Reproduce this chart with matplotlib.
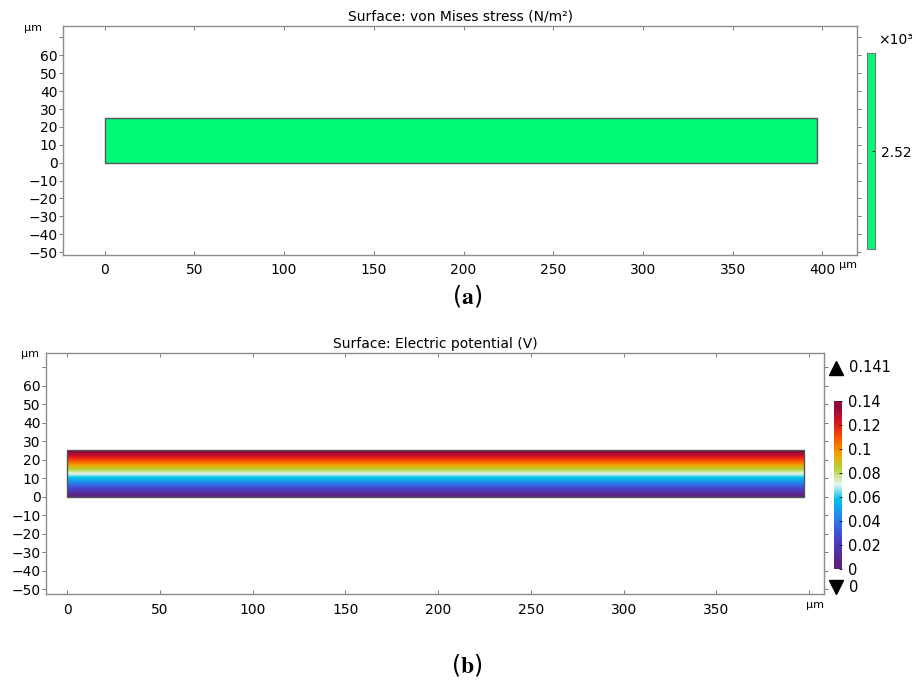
import numpy as np
import matplotlib
matplotlib.use("Agg")
import matplotlib.pyplot as plt
from matplotlib.colors import LinearSegmentedColormap, ListedColormap
from matplotlib.patches import Rectangle
from matplotlib.lines import Line2D

plt.rcParams['font.family'] = ['DejaVu Sans']
plt.rcParams['font.size'] = 10
plt.rcParams['mathtext.fontset'] = 'stix'

# geometry of the beam (um)
beam_length = 397
beam_height = 25

# (a) von Mises stress, uniform over the beam (N/m^2)
stress_value = 2520

# (b) electric potential through the thickness (V)
y_samples = [0, 2.5, 5, 7.5, 10, 12.5, 15, 17.5, 20, 22.5, 25]
v_samples = [0, 0.014, 0.028, 0.042, 0.056, 0.071, 0.085, 0.099, 0.113, 0.127, 0.141]
v_min = 0
v_max = 0.141
cbar_ticks = [0, 0.02, 0.04, 0.06, 0.08, 0.1, 0.12, 0.14]
cbar_labels = ["0", "0.02", "0.04", "0.06", "0.08", "0.1", "0.12", "0.14"]

y_ticks = [-50, -40, -30, -20, -10, 0, 10, 20, 30, 40, 50, 60, 70]
y_labels = ["\u221250", "\u221240", "\u221230", "\u221220", "\u221210", "0",
            "10", "20", "30", "40", "50", "60", ""]
x_ticks = [0, 50, 100, 150, 200, 250, 300, 350, 400]

# comsol-like rainbow
rainbow = LinearSegmentedColormap.from_list("rainbowlight", [
    (0.00, "#5b2386"), (0.14, "#4a3fc8"), (0.27, "#2a7fee"),
    (0.40, "#00c4e8"), (0.50, "#e6f6ee"), (0.60, "#b6d23c"),
    (0.70, "#f2a400"), (0.80, "#fb5200"), (0.90, "#da1520"),
    (1.00, "#8e0a3e")])
green = ListedColormap(["#00fa78"])

edge = "#555555"
spine = "#8c8c8c"


def style_axes(ax):
    for s in ax.spines.values():
        s.set_color(spine)
        s.set_linewidth(1.0)
    ax.set_yticks(y_ticks)
    ax.set_yticklabels(y_labels)
    ax.tick_params(axis='both', which='both', direction='in', length=3,
                   width=0.6, color="#666666", top=True, right=True, pad=3)
    ax.tick_params(axis='y', which='both', left=True, direction='out', pad=1)
    ax.tick_params(axis='x', pad=6)


fig = plt.figure(figsize=(9.16, 6.86), dpi=100)

# ---- (a) ----
ax1 = fig.add_axes([0.0688, 0.6283, 0.8668, 0.3338])
ax1.imshow([[stress_value]], cmap=green, extent=(0, beam_length, 0, beam_height),
           aspect='auto', vmin=0, vmax=2 * stress_value)
ax1.add_patch(Rectangle((0, 0), beam_length, beam_height, fill=False,
                        edgecolor=edge, lw=1.0))
ax1.set_xlim(-23.2, 419.3)
ax1.set_ylim(-51.6, 76.4)
style_axes(ax1)
ax1.set_xticks(x_ticks)
ax1.set_title("Surface: von Mises stress (N/m\u00b2)", fontsize=10, pad=4)
fig.text(24 / 916, 1 - 28 / 686, "\u00b5m", fontsize=8, ha='left', va='center')
fig.text(848 / 916, 1 - 265 / 686, "\u00b5m", fontsize=8, ha='center', va='center')

cax1 = fig.add_axes([0.9468, 0.637, 0.0087, 0.2853])
cax1.imshow([[stress_value]], cmap=green, aspect='auto',
            extent=(0, 1, stress_value - 1000, stress_value + 1000),
            vmin=0, vmax=2 * stress_value)
cax1.set_xticks([])
cax1.yaxis.tick_right()
cax1.set_yticks([stress_value])
cax1.set_yticklabels(["%.2f" % (stress_value / 1000)])
cax1.tick_params(axis='y', direction='in', length=2, width=0.6, pad=4, labelsize=10)
for s in cax1.spines.values():
    s.set_color("#777777")
    s.set_linewidth(0.8)
fig.text(878 / 916, 1 - 40 / 686, "\u00d710\u00b3", fontsize=10, ha='left', va='center')
fig.text(467 / 916, 1 - 296 / 686, r"($\mathbf{a}$)", fontsize=17,
         ha='center', va='center')

# ---- (b) ----
ax2 = fig.add_axes([0.0502, 0.1337, 0.8493, 0.3513])
field = np.array(v_samples).reshape(-1, 1)
ax2.imshow(field, cmap=rainbow, origin='lower', aspect='auto',
           extent=(0, beam_length, y_samples[0], y_samples[-1]),
           vmin=v_min, vmax=v_max, interpolation='bilinear')
ax2.add_patch(Rectangle((0, 0), beam_length, beam_height, fill=False,
                        edgecolor=edge, lw=1.0))
ax2.set_xlim(-11.5, 408)
ax2.set_ylim(-52.8, 77.5)
style_axes(ax2)
ax2.set_xticks(x_ticks)
ax2.set_xticklabels([str(t) for t in x_ticks[:-1]] + [""])
ax2.set_title("Surface: Electric potential (V)", fontsize=10, pad=4)
fig.text(21 / 916, 1 - 354 / 686, "\u00b5m", fontsize=8, ha='left', va='center')
fig.text(815 / 916, 1 - 605 / 686, "\u00b5m", fontsize=8, ha='center', va='center')

cax2 = fig.add_axes([0.9108, 0.1701, 0.0087, 0.2453])
cb_vals = np.array(v_samples).reshape(-1, 1)
cax2.imshow(cb_vals, cmap=rainbow, origin='lower', aspect='auto',
            extent=(0, 1, v_min, v_max), vmin=v_min, vmax=v_max,
            interpolation='bilinear')
cax2.set_ylim(v_min, 0.14)
cax2.set_xticks([])
cax2.yaxis.tick_right()
cax2.set_yticks(cbar_ticks)
cax2.set_yticklabels(cbar_labels)
cax2.tick_params(axis='y', direction='in', length=2, width=0.6, pad=4, labelsize=10.5)
for s in cax2.spines.values():
    s.set_visible(False)

fig.add_artist(Line2D([836 / 916], [1 - 368 / 686], marker='^', color='black',
                      markersize=10, transform=fig.transFigure))
fig.text(849 / 916, 1 - 368 / 686, "%.3f" % v_max, fontsize=10.5, ha='left', va='center')
fig.add_artist(Line2D([836 / 916], [1 - 587 / 686], marker='v', color='black',
                      markersize=10, transform=fig.transFigure))
fig.text(849 / 916, 1 - 587 / 686, "%g" % v_min, fontsize=10.5, ha='left', va='center')
fig.text(467 / 916, 1 - 665 / 686, r"($\mathbf{b}$)", fontsize=17,
         ha='center', va='center')

fig.savefig("out.png", dpi=100)
